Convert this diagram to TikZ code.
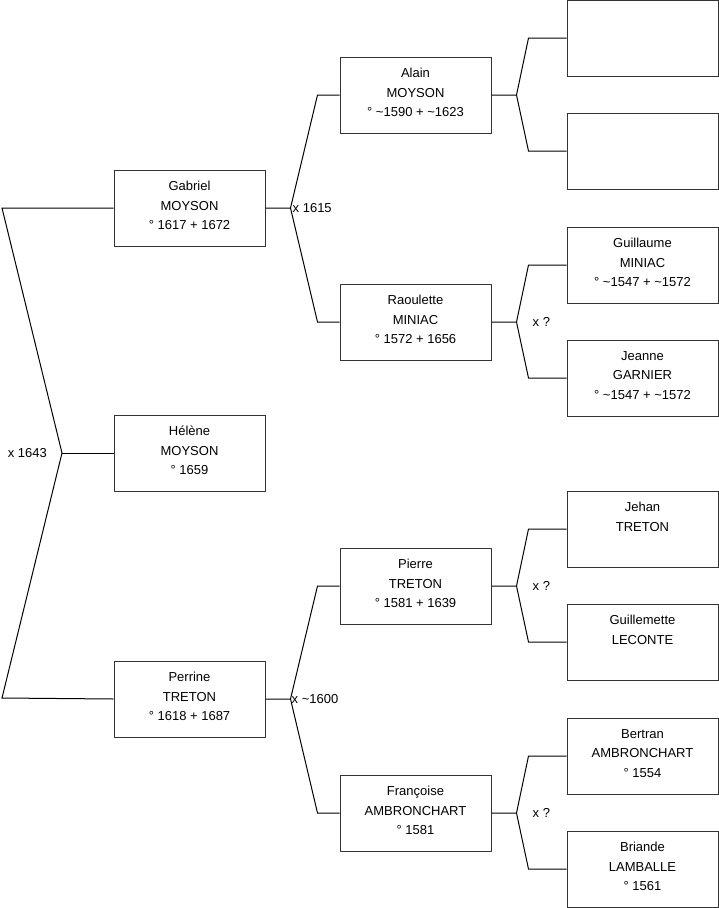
\documentclass[tikz,border=0pt]{standalone}
\usepackage{fontspec}
\setmainfont{Liberation Sans}
\usetikzlibrary{calc,positioning}
\tikzset{gtbox/.style={draw=black!80,line width=1pt,minimum width=151pt,minimum height=76pt,inner sep=0pt},
         gttext/.style={align=center,inner sep=0pt,font=\fontsize{13}{19.5}\selectfont},
         gtlab/.style={font=\fontsize{13}{16}\selectfont,inner sep=0pt},
         gtlink/.style={line width=1pt}}
\newcommand{\ca}{\textasciitilde}

\begin{document}
\begin{tikzpicture}[x=1pt,y=-1pt]
  \useasboundingbox (0,0) rectangle (719,908);
  % people, one column after the other
  \foreach \x/\y/\n/\t in {189.5/208/gab/{Gabriel\\MOYSON\\° 1617 + 1672},
                           189.5/453/hel/{Hélène\\MOYSON\\° 1659},
                           189.5/699/per/{Perrine\\TRETON\\° 1618 + 1687},
                           415.5/95/ala/{Alain\\MOYSON\\° \ca1590 + \ca1623},
                           415.5/322/rao/{Raoulette\\MINIAC\\° 1572 + 1656},
                           415.5/586/pie/{Pierre\\TRETON\\° 1581 + 1639},
                           415.5/813/fra/{Françoise\\AMBRONCHART\\° 1581},
                           642.5/265/gui/{Guillaume\\MINIAC\\° \ca1547 + \ca1572},
                           642.5/378/jea/{Jeanne\\GARNIER\\° \ca1547 + \ca1572},
                           642.5/529/jeh/{Jehan\\TRETON},
                           642.5/642/gle/{Guillemette\\LECONTE},
                           642.5/756/ber/{Bertran\\AMBRONCHART\\° 1554},
                           642.5/869/bri/{Briande\\LAMBALLE\\° 1561}}
     {\node[gtbox] (\n) at (\x,\y) {};
      \node[gttext,below=11.5pt of \n.north] (\n t) {\t};}
  % unknown ancestors
  \node[gtbox] (ea) at (642.5,38) {};
  \node[gtbox] (eb) at (642.5,151) {};
  % couple of the first generation
  \coordinate (lj) at (62,453); \coordinate (lt) at (2,208); \coordinate (lb) at (2,698);
  \draw[gtlink] (gab.west) -- (lt) -- (lj) -- (lb) -- (per.west);
  \draw[gtlink] (lj) -- (hel.west);
  \node[gtlab,anchor=east] (m0) at (47,453) {x 1643};
  % parents of each person
  \foreach \p/\a/\b/\d in {gab/ala/rao/22,per/pie/fra/22,ala/ea/eb/38,rao/gui/jea/38,pie/jeh/gle/38,fra/ber/bri/38}
    {\path (\p.east) ++(25,0) coordinate (\p j);
     \draw[gtlink] (\p.east) -- (\p j) -- ($(\a.west)+(-\d,0)$) -- (\a.west);
     \draw[gtlink] (\p j) -- ($(\b.west)+(-\d,0)$) -- (\b.west);}
  \node[gtlab,anchor=west] (m1) at ($(gabj)+(2,0)$) {x 1615};
  \node[gtlab,anchor=west] (m2) at ($(perj)+(1,0)$) {x \ca1600};
  \foreach \p in {rao,pie,fra}
    \node[gtlab,anchor=west] (m\p) at ($(\p j)+(16,0)$) {x ?};
\end{tikzpicture}
\end{document}
